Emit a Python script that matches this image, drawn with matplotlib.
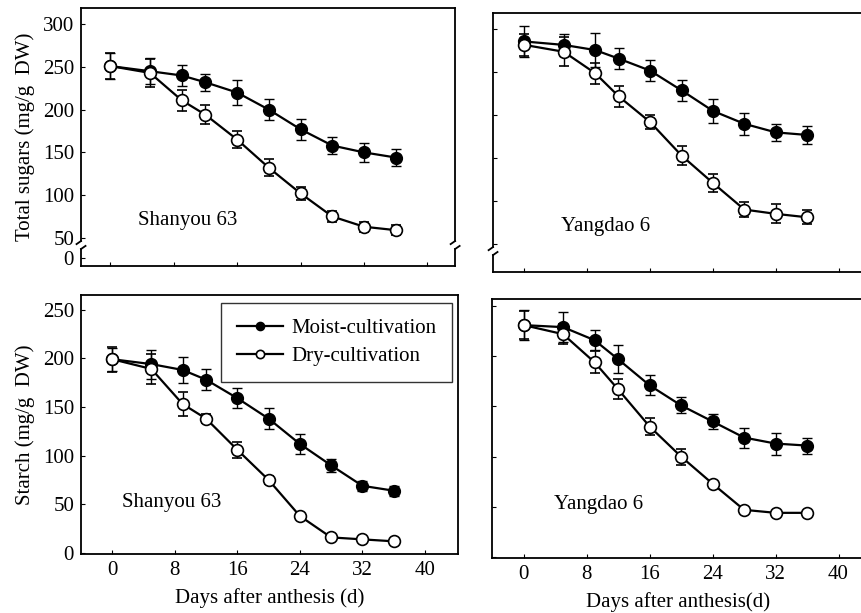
""" Total sugars and starch in grains after anthesis """

# Imports
import matplotlib
matplotlib.use("Agg")
import matplotlib.pyplot as plt

plt.rcParams["font.family"] = ["Liberation Serif", "DejaVu Serif"]
plt.rcParams["font.size"] = 15

# Data
days = [0, 5, 9, 12, 16, 20, 24, 28, 32, 36]

sugar_sy_moist = [251, 245, 240, 232, 220, 200, 177, 158, 150, 144]
sugar_sy_moist_err = [15, 15, 12, 10, 15, 12, 12, 10, 11, 10]
sugar_sy_dry = [251, 243, 211, 194, 165, 132, 102, 75, 63, 59]
sugar_sy_dry_err = [15, 16, 12, 11, 10, 10, 8, 6, 6, 6]

sugar_yd_moist = [286, 282, 276, 266, 252, 229, 205, 190, 180, 177]
sugar_yd_moist_err = [18, 13, 20, 12, 12, 12, 14, 13, 10, 10]
sugar_yd_dry = [282, 274, 249, 222, 192, 153, 121, 90, 85, 81]
sugar_yd_dry_err = [13, 17, 12, 12, 8, 11, 10, 9, 11, 8]

starch_sy_moist = [199, 194, 188, 178, 159, 138, 112, 90, 69, 64]
starch_sy_moist_err = [12, 15, 13, 11, 10, 11, 10, 7, 5, 5]
starch_sy_dry = [199, 189, 153, 138, 106, 75, 38, 16, 14, 12]
starch_sy_dry_err = [13, 15, 12, 5, 8, 4, 2, 2, 2, 2]

starch_yd_moist = [231, 229, 216, 197, 171, 151, 135, 119, 113, 111]
starch_yd_moist_err = [15, 15, 10, 14, 10, 8, 7, 10, 11, 8]
starch_yd_dry = [231, 222, 194, 167, 130, 100, 73, 47, 44, 44]
starch_yd_dry_err = [14, 10, 11, 10, 8, 8, 2, 2, 2, 2]

x_ticks = [0, 8, 16, 24, 32, 40]
sugar_ticks = [50, 100, 150, 200, 250, 300]
starch_ticks = [0, 50, 100, 150, 200, 250]

fig = plt.figure(figsize=(8.62, 6.13), dpi=100)

# Axes positions (left, bottom, width, height)
ax_tl = fig.add_axes([0.094, 0.566, 0.434, 0.421])
ax_tr = fig.add_axes([0.572, 0.556, 0.430, 0.4225])
ax_bl = fig.add_axes([0.094, 0.0963, 0.437, 0.4225])
ax_br = fig.add_axes([0.571, 0.0897, 0.431, 0.4225])


def draw_series(ax, moist, moist_err, dry, dry_err):
    m = ax.errorbar(days, moist, yerr=moist_err, color="black", lw=1.6,
                    marker="o", ms=8.5, mfc="black", mec="black",
                    ecolor="black", elinewidth=1.0, capsize=3.5)
    d = ax.errorbar(days, dry, yerr=dry_err, color="black", lw=1.6,
                    marker="o", ms=8.5, mfc="white", mec="black", mew=1.2,
                    ecolor="black", elinewidth=1.0, capsize=3.5)
    return m[0], d[0]


def style(ax):
    ax.tick_params(direction="in", length=3, width=0.8, pad=5)
    for s in ax.spines.values():
        s.set_linewidth(1.3)
    ax.set_xticks(x_ticks)


def broken_spine(ax, x, y_lo, y_hi, side):
    # spine in two pieces with a small curl at the break
    ax.spines[side].set_visible(False)
    kw = dict(transform=ax.transAxes, color="black", lw=1.3, clip_on=False)
    ax.plot([x, x], [y_hi, 1], **kw)
    ax.plot([x, x], [0, y_lo], **kw)
    ax.plot([x, x - 0.012], [y_hi, y_hi - 0.012], **kw)
    ax.plot([x, x + 0.012], [y_lo, y_lo + 0.012], **kw)


# Total sugars panels
for ax in (ax_tl, ax_tr):
    style(ax)
    ax.set_ylim(17, 319)
    ax.set_xticklabels([])

ax_tl.set_xlim(-3.7, 43.5)
ax_tr.set_xlim(-4.0, 43.2)

draw_series(ax_tl, sugar_sy_moist, sugar_sy_moist_err,
            sugar_sy_dry, sugar_sy_dry_err)
draw_series(ax_tr, sugar_yd_moist, sugar_yd_moist_err,
            sugar_yd_dry, sugar_yd_dry_err)

ax_tl.set_yticks(sugar_ticks + [26.6])
ax_tl.set_yticklabels([str(t) for t in sugar_ticks] + ["0"])
ax_tr.set_yticks(sugar_ticks)
ax_tr.set_yticklabels([])
ax_tl.set_ylabel("Total sugars (mg/g  DW)", labelpad=6)

broken_spine(ax_tl, 0, 0.066, 0.097, "left")
broken_spine(ax_tl, 1, 0.066, 0.097, "right")
broken_spine(ax_tr, 0, 0.066, 0.097, "left")
ax_tr.spines["right"].set_visible(False)

ax_tl.text(3.5, 70, "Shanyou 63", va="center", ha="left")
ax_tr.text(4.6, 70, "Yangdao 6", va="center", ha="left")

# Starch panels
for ax in (ax_bl, ax_br):
    style(ax)
    ax.set_ylim(-1, 265)
    ax.set_yticks(starch_ticks)

ax_bl.set_xlim(-4.0, 44.2)
ax_br.set_xlim(-4.0, 43.2)
ax_br.set_ylim(-1, 257)
ax_br.set_yticklabels([])
ax_br.spines["right"].set_visible(False)
ax_bl.set_xlabel("Days after anthesis (d)", labelpad=6)
ax_br.set_xlabel("Days after anthesis(d)", labelpad=6)

h_moist, h_dry = draw_series(ax_bl, starch_sy_moist, starch_sy_moist_err,
                             starch_sy_dry, starch_sy_dry_err)
draw_series(ax_br, starch_yd_moist, starch_yd_moist_err,
            starch_yd_dry, starch_yd_dry_err)

ax_bl.set_ylabel("Starch (mg/g  DW)", labelpad=6)
ax_bl.text(1.3, 52, "Shanyou 63", va="center", ha="left")
ax_br.text(3.8, 52, "Yangdao 6", va="center", ha="left")

leg = ax_bl.legend([h_moist, h_dry], ["Moist-cultivation", "Dry-cultivation"],
                   loc="upper right", bbox_to_anchor=(0.984, 0.969),
                   frameon=True, fancybox=False, edgecolor="black",
                   handlelength=2.2, handletextpad=0.4, borderpad=0.75,
                   labelspacing=0.4, markerscale=0.7, borderaxespad=0)
leg.get_frame().set_linewidth(1.0)

plt.savefig("out.png", dpi=100)
